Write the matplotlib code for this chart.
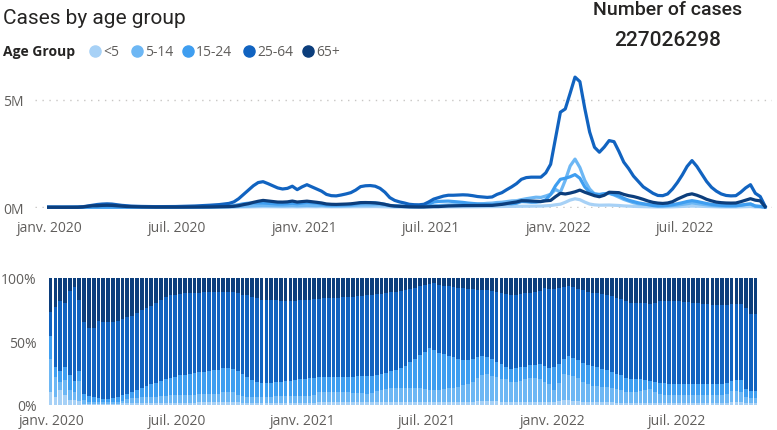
import matplotlib
matplotlib.use('Agg')
import matplotlib.pyplot as plt
import matplotlib.dates as mdates
from matplotlib.lines import Line2D
import numpy as np
import pandas as pd

# weekly data, first week starting 2019-12-30
weeks = pd.date_range('2019-12-30', periods=148, freq='7D')
groups = ['<5', '5-14', '15-24', '25-64', '65+']
colors = ['#A7D1F6', '#6DB7F4', '#3F9EF0', '#1163C0', '#0C3E7C']
total_cases = '227026298'

tick_dates = ['2020-01-01', '2020-07-01', '2021-01-01', '2021-07-01', '2022-01-01', '2022-07-01']
tick_labels = ['janv. 2020', 'juil. 2020', 'janv. 2021', 'juil. 2021', 'janv. 2022', 'juil. 2022']

# weekly cases (thousands)
cases_lt5 = [1, 0.3, 0.4, 0.5, 0.2, 0.2, 0.4, 0.4, 1, 2,
             2, 2.5, 3, 2.5, 2, 2, 2, 1.4, 1.1, 1,
             0.9, 0.9, 0.8, 0.8, 0.8, 0.9, 1, 1.1, 1.3, 1.4,
             1.8, 2.2, 2.6, 3, 3.6, 4, 5.5, 7, 9, 13,
             17, 21, 24, 28, 29, 27, 25, 22, 21, 22,
             25, 21, 26, 29, 26, 25, 30, 24, 22, 21,
             23, 25, 27, 30, 35, 36, 35, 34, 31, 24,
             16, 11, 8, 7, 5, 4, 4, 5, 10, 15,
             17, 19, 21, 21, 21, 21, 22, 22, 24, 27,
             28, 28, 34, 35, 37, 40, 43, 50, 53, 53,
             56, 56, 68, 82, 116, 144, 232, 335, 395, 353,
             241, 151, 113, 97, 101, 105, 97, 84, 65, 54,
             44, 36, 29, 24, 19, 16, 15, 16, 22, 30,
             39, 50, 57, 50, 41, 32, 25, 20, 17, 15,
             15, 16, 23, 30, 35, 16, 12, 1]
cases_5_14 = [3, 0.7, 0.2, 0.7, 0.4, 0.3, 2.3, 1.3, 2, 3,
              3, 4, 4, 4, 3, 3.5, 3.5, 3.7, 3.2, 2.9,
              2.5, 2.7, 2.3, 2.4, 2.4, 2.8, 3.1, 3.7, 4.3, 4.9,
              6, 7.3, 8.3, 10, 11.6, 14, 19, 25, 32, 39,
              50, 61, 75, 86, 91, 85, 77, 72, 72, 77,
              86, 73, 82, 91, 83, 79, 90, 72, 64, 63,
              67, 73, 80, 93, 108, 109, 108, 117, 119, 104,
              75, 59, 45, 37, 27, 24, 24, 29, 51, 75,
              82, 97, 107, 113, 121, 130, 133, 136, 144, 162,
              186, 195, 223, 235, 268, 296, 305, 355, 399, 434,
              470, 458, 526, 606, 829, 700, 1250, 1918, 2240, 1850,
              1250, 850, 620, 576, 618, 646, 572, 468, 367, 288,
              211, 163, 139, 125, 106, 96, 76, 66, 83, 104,
              136, 172, 198, 175, 143, 112, 87, 71, 59, 52,
              51, 59, 104, 132, 149, 49, 35, 4]
cases_15_24 = [2, 0.3, 0.3, 0.6, 0.5, 0.5, 1.1, 2.2, 5, 6,
               6, 6, 7, 8, 8, 6, 5, 4.6, 4.6, 4.6,
               5.1, 5.2, 5.2, 5.7, 6.1, 6.8, 7.8, 9.7, 10.9, 12.7,
               16.6, 19.6, 22.7, 28, 33, 38, 47, 57, 77, 122,
               164, 191, 197, 203, 201, 186, 169, 153, 154, 166,
               187, 164, 199, 225, 213, 193, 145, 117, 105, 103,
               110, 119, 131, 160, 199, 213, 219, 206, 179, 139,
               89, 66, 59, 51, 41, 41, 47, 66, 139, 244,
               273, 280, 288, 266, 249, 228, 198, 179, 159, 149,
               130, 118, 145, 151, 164, 163, 188, 266, 256, 236,
               238, 264, 347, 600, 1000, 1300, 1350, 1420, 1520, 1350,
               950, 700, 620, 600, 630, 660, 600, 535, 418, 328,
               266, 207, 165, 124, 82, 59, 67, 88, 121, 162,
               212, 269, 309, 272, 224, 175, 136, 110, 92, 82,
               79, 79, 92, 129, 156, 60, 43, 4]
cases_25_64 = [2, 2, 2, 3, 3, 4, 8, 25, 60, 100,
               130, 150, 160, 150, 120, 90, 70, 55, 45, 40,
               35, 33, 30, 30, 30, 32, 35, 40, 45, 50,
               60, 70, 80, 95, 110, 125, 150, 180, 250, 400,
               600, 800, 1000, 1150, 1190, 1100, 1000, 900, 850, 880,
               980, 820, 950, 1050, 950, 850, 750, 600, 540, 530,
               570, 620, 680, 800, 960, 1000, 1010, 980, 880, 700,
               450, 320, 250, 200, 140, 120, 115, 140, 250, 380,
               450, 520, 560, 560, 570, 580, 570, 540, 500, 480,
               460, 480, 600, 680, 820, 950, 1100, 1300, 1380, 1400,
               1400, 1400, 1600, 2000, 3200, 4420, 4570, 5300, 6050, 5840,
               4600, 3500, 2790, 2560, 2800, 3100, 3050, 2600, 2100, 1800,
               1450, 1200, 950, 800, 650, 550, 540, 620, 850, 1150,
               1500, 1900, 2170, 1900, 1550, 1200, 930, 750, 620, 550,
               530, 540, 700, 900, 1050, 650, 500, 50]
cases_65p = [3, 1, 0.7, 1.2, 0.5, 0.4, 2.4, 15.6, 43, 71,
             73, 88, 93, 88, 69, 49, 36, 28, 20, 17,
             13, 12, 9, 8, 7, 6.6, 7, 7.7, 8.4, 9.4,
             11.3, 13, 14, 16, 19, 22, 27, 33, 46, 75,
             124, 166, 229, 280, 320, 296, 270, 243, 241, 252,
             290, 244, 266, 286, 260, 232, 201, 155, 139, 134,
             141, 150, 162, 187, 217, 221, 216, 203, 178, 137,
             84, 58, 44, 33, 22, 17, 15, 17, 26, 34,
             34, 50, 62, 68, 73, 79, 80, 80, 80, 84,
             85, 89, 114, 136, 176, 213, 247, 305, 301, 290,
             284, 269, 300, 320, 493, 649, 618, 661, 720, 800,
             700, 620, 540, 490, 560, 700, 690, 680, 600, 540,
             500, 440, 370, 290, 230, 195, 180, 200, 260, 380,
             480, 580, 625, 560, 474, 370, 300, 240, 215, 200,
             195, 200, 260, 330, 400, 330, 300, 24]

# weekly share of cases (%)
share_lt5 = [10, 6, 12, 8, 4, 4, 3, 1, 1, 1,
             1, 1, 1, 1, 1, 1.2, 1.5, 1.5, 1.5, 1.5,
             1.6, 1.6, 1.7, 1.7, 1.8, 1.8, 1.8, 1.8, 1.8, 1.8,
             1.9, 2, 2, 2, 2, 2, 2.2, 2.3, 2.2, 2,
             1.8, 1.7, 1.6, 1.6, 1.6, 1.6, 1.6, 1.6, 1.6, 1.6,
             1.6, 1.6, 1.7, 1.7, 1.7, 1.8, 2.5, 2.5, 2.5, 2.5,
             2.5, 2.5, 2.5, 2.4, 2.3, 2.3, 2.2, 2.2, 2.2, 2.2,
             2.2, 2.2, 2, 2, 2, 2, 2, 2, 2, 2,
             2, 2, 2, 2, 2, 2, 2.2, 2.3, 2.6, 3,
             3.1, 3.1, 3, 2.8, 2.5, 2.4, 2.3, 2.2, 2.2, 2.2,
             2.3, 2.3, 2.3, 2.2, 2, 2, 3, 3.6, 3.6, 3.4,
             3, 2.6, 2.4, 2.2, 2.1, 2, 2, 2, 1.9, 1.9,
             1.8, 1.8, 1.8, 1.8, 1.8, 1.8, 1.7, 1.7, 1.7, 1.7,
             1.7, 1.7, 1.7, 1.7, 1.7, 1.7, 1.7, 1.7, 1.7, 1.7,
             1.7, 1.8, 2, 2, 2, 1.6, 1.5, 1.5]
share_5_14 = [26, 16, 6, 12, 8, 6, 16, 3, 1.5, 1.5,
              1.5, 1.5, 1.5, 1.5, 1.5, 2.3, 3, 4, 4.3, 4.5,
              4.4, 5, 4.9, 5.1, 5.2, 5.8, 5.8, 6, 6.2, 6.2,
              6.3, 6.5, 6.5, 6.5, 6.5, 7, 7.8, 8.2, 7.8, 6,
              5.2, 4.9, 4.9, 4.9, 5, 5, 5, 5.2, 5.4, 5.5,
              5.5, 5.5, 5.4, 5.4, 5.4, 5.7, 7.4, 7.4, 7.4, 7.4,
              7.4, 7.4, 7.4, 7.3, 7.1, 6.9, 6.8, 7.6, 8.6, 9.4,
              10.5, 11.5, 11.1, 11.3, 11.6, 11.7, 11.5, 11.2, 10.8, 10,
              9.6, 10, 10.3, 11, 11.7, 12.5, 13.3, 14.2, 15.9, 18,
              20.9, 21.4, 20, 19, 18.3, 17.8, 16.2, 15.6, 16.7, 18,
              19.2, 18.7, 17.9, 16.3, 14.3, 9.6, 14.6, 20.6, 20.4, 19.6,
              18, 15.9, 14.1, 13.1, 12.9, 12.3, 11.8, 11.2, 10.7, 10.1,
              8.7, 8.1, 8.7, 9.4, 10, 10.6, 8.8, 6.8, 6.3, 5.9,
              5.9, 5.9, 5.9, 5.9, 5.9, 5.9, 5.9, 5.9, 5.9, 5.9,
              5.9, 6.7, 9, 8.8, 8.5, 4.9, 4.3, 4.3]
share_15_24 = [18, 8, 9, 10, 12, 9, 8, 5, 4.5, 3.5,
               3, 2.5, 2.5, 3, 4, 4, 4.5, 5, 6.2, 7,
               9, 9.7, 11, 12.2, 13.2, 13.9, 14.4, 15.6, 15.6, 16.2,
               17.3, 17.5, 17.8, 18.3, 18.8, 18.8, 18.9, 18.9, 18.6, 18.8,
               17.2, 15.4, 12.9, 11.6, 11, 11, 11, 11, 11.5, 11.9,
               11.9, 12.4, 13.1, 13.4, 13.9, 14, 11.9, 12.1, 12.1, 12.1,
               12.1, 12.1, 12.1, 12.6, 13.1, 13.5, 13.8, 13.4, 12.9, 12.6,
               12.5, 12.9, 14.5, 15.7, 17.4, 19.8, 23, 25.8, 29.2, 32.6,
               31.9, 29, 27.7, 25.8, 24.1, 22, 19.7, 18.7, 17.5, 16.5,
               14.6, 13, 13, 12.2, 11.2, 9.8, 10, 11.7, 10.7, 9.8,
               9.7, 10.8, 11.8, 12, 13.1, 18.4, 14.9, 11.8, 14.6, 14,
               14.5, 14.8, 15, 15.1, 14.6, 14.2, 13.4, 12.8, 12.2, 11.5,
               11, 10.3, 10.3, 9.3, 7.7, 6.5, 7.7, 9.1, 9.2, 9.2,
               9.2, 9.2, 9.2, 9.2, 9.2, 9.2, 9.2, 9.2, 9.2, 9.2,
               9.2, 9, 7.9, 8.6, 8.9, 5.9, 5.2, 5.2]
share_25_64 = [19, 47, 55, 50, 66, 74, 56, 56, 54, 55,
               60.5, 60, 60, 59.5, 59.5, 60, 60, 59.5, 60.5, 61.5,
               61.5, 61.7, 62.9, 64, 64.8, 65, 65, 64.2, 64.4, 63.8,
               62.7, 62.4, 62.7, 62.4, 61.9, 61.4, 60.3, 59.6, 60.4, 61.6,
               62.8, 64.6, 65.6, 65.9, 65.1, 64.9, 64.9, 64.7, 63.5, 63,
               62.5, 62, 62.3, 62.5, 62, 61.7, 61.7, 62, 62, 62.3,
               62.5, 62.8, 63, 63, 63.2, 63.3, 63.6, 63.6, 63.5, 63.4,
               63, 62.2, 61.6, 61, 59.8, 58.1, 56, 54.4, 52.5, 50.9,
               52.5, 53.8, 54, 54.6, 55.1, 55.9, 56.8, 56.4, 55.2, 53.2,
               51.8, 52.7, 53.8, 55, 56, 57.2, 58.4, 57.1, 57.8, 58,
               57.2, 57.2, 57.8, 61.9, 62.1, 61, 59.5, 56.9, 55.1, 55.8,
               56, 57, 57.5, 58, 58.4, 59.1, 59.8, 59.8, 59.7, 59.7,
               60, 59.8, 59.4, 60.1, 61.1, 60.6, 62.3, 63.9, 64.8, 65.2,
               65.2, 65, 64.6, 64.2, 63.7, 63.2, 62.7, 62.4, 62.2, 62,
               61.9, 61.5, 60.4, 59.9, 59.9, 64.2, 61, 60.4]
share_65p = [27, 23, 18, 20, 10, 7, 17, 35, 39, 39,
             34, 35, 35, 35, 34, 32.5, 31, 30, 27.5, 25.5,
             23.5, 22, 19.5, 17, 15, 13.5, 13, 12.4, 12, 12,
             11.8, 11.6, 11, 10.8, 10.8, 10.8, 10.8, 11, 11, 11.6,
             13, 13.4, 15, 16, 17.3, 17.5, 17.5, 17.5, 18, 18,
             18.5, 18.5, 17.5, 17, 17, 16.8, 16.5, 16, 16, 15.7,
             15.5, 15.2, 15, 14.7, 14.3, 14, 13.6, 13.2, 12.8, 12.4,
             11.8, 11.2, 10.8, 10, 9.2, 8.4, 7.5, 6.6, 5.5, 4.5,
             4, 5.2, 6, 6.6, 7.1, 7.6, 8, 8.4, 8.8, 9.3,
             9.6, 9.8, 10.2, 11, 12, 12.8, 13.1, 13.4, 12.6, 12,
             11.6, 11, 10.2, 7.6, 8.5, 9, 8, 7.1, 6.3, 7.2,
             8.5, 9.7, 11, 11.6, 12, 12.4, 13, 14.2, 15.5, 16.8,
             18.5, 20, 19.8, 19.4, 19.4, 20.5, 19.5, 18.5, 18, 18,
             18, 18.2, 18.6, 19, 19.5, 20, 20.5, 20.8, 21, 21.2,
             21.3, 21, 20.7, 20.7, 20.7, 23.4, 28, 28.6]

cases = [cases_lt5, cases_5_14, cases_15_24, cases_25_64, cases_65p]
shares = np.array([share_lt5, share_5_14, share_15_24, share_25_64, share_65p], dtype=float)
shares = shares / shares.sum(axis=0) * 100

W, H = 777, 431
fig = plt.figure(figsize=(W / 100, H / 100), dpi=100)
grey = '#605E5C'
tick_font = 'Open Sans'

# ---------- line chart ----------
ax1 = fig.add_axes([35 / W, 1 - 209 / H, (772 - 35) / W, (209 - 72) / H])
for vals, c in zip(cases, colors):
    ax1.plot(weeks, vals, color=c, lw=2.3, solid_joinstyle='round', clip_on=False)
jan1 = mdates.date2num(pd.Timestamp('2020-01-01'))
ax1.set_xlim(jan1 - 15 / 0.6963, jan1 + 722 / 0.6963)
ax1.set_ylim(-33, 6334)
ax1.set_yticks([0, 5000])
ax1.set_yticklabels(['0M', '5M'])
ax1.yaxis.grid(True, color='#C8C6C4', lw=1, linestyle=(0, (1, 4)))
ax1.set_axisbelow(True)

# ---------- 100% stacked columns ----------
ax2 = fig.add_axes([45 / W, 1 - 406 / H, (770 - 45) / W, 127 / H])
bottom = np.zeros(len(weeks))
for s, c in zip(shares, colors):
    ax2.bar(weeks, s, bottom=bottom, width=5.5, color=c, linewidth=0)
    bottom += s
d0 = mdates.date2num(weeks[0])
ax2.set_xlim(d0 - 5.6 / 0.6851, d0 + 719.4 / 0.6851)
ax2.set_ylim(0, 100)
ax2.set_yticks([0, 50, 100])
ax2.set_yticklabels(['0%', '50%', '100%'])

for ax, xpad, ypad in ((ax1, 9, 8), (ax2, 6, 6)):
    ax.set_xticks([pd.Timestamp(d) for d in tick_dates])
    ax.set_xticklabels(tick_labels)
    for sp in ax.spines.values():
        sp.set_visible(False)
    ax.tick_params(length=0, labelsize=10, labelcolor=grey)
    ax.tick_params(axis='x', pad=xpad)
    ax.tick_params(axis='y', pad=ypad)
    for lab in ax.get_xticklabels() + ax.get_yticklabels():
        lab.set_fontfamily(tick_font)

# ---------- title, legend, card ----------
fig.text(3 / W, 1 - 18 / H, 'Cases by age group', fontsize=15, color='#252423',
         family='Roboto', va='center', ha='left')
fig.text(3 / W, 1 - 52 / H, 'Age Group', fontsize=10, fontweight='bold', color='#252423',
         family='Open Sans', va='center', ha='left')
mark_x = [95, 137, 188, 249, 308]
for mx, g, c in zip(mark_x, groups, colors):
    fig.add_artist(Line2D([mx / W], [1 - 52 / H], marker='o', markersize=8, color=c,
                          linestyle='none', transform=fig.transFigure))
    fig.text((mx + 8) / W, 1 - 52 / H, g, fontsize=10, color=grey, family=tick_font,
             va='center', ha='left')

fig.text(668 / W, 1 - 10 / H, 'Number of cases', fontsize=14, color='#252423',
         family='Roboto', fontweight='medium', va='center', ha='center')
fig.text(668 / W, 1 - 41 / H, total_cases, fontsize=15, color='#252423',
         family='Roboto', fontweight='medium', va='center', ha='center')

fig.savefig('out.png', dpi=100, facecolor='white')
